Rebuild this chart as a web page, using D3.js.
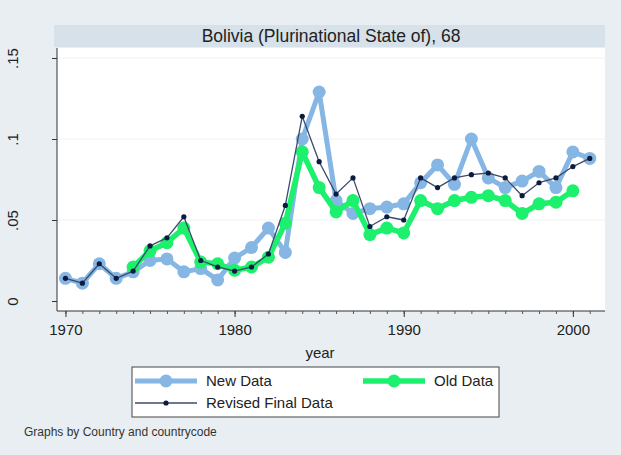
<!DOCTYPE html>
<html>
<head>
<meta charset="utf-8">
<script src="https://cdn.jsdelivr.net/npm/d3@7"></script>
<style>
  body { margin: 0; background: #e8eef2; }
  text { font-family: "Liberation Sans", Arial, sans-serif; }
</style>
</head>
<body>
<div id="chart"></div>
<script>
// Values
const years = d3.range(1970, 2002);
const newData = [0.014, 0.011, 0.023, 0.014, 0.018, 0.025, 0.026, 0.018, 0.020, 0.013,
  0.0265, 0.033, 0.045, 0.030, 0.100, 0.129, 0.062, 0.054, 0.057, 0.058,
  0.060, 0.073, 0.084, 0.072, 0.100, 0.076, 0.070, 0.074, 0.080, 0.070,
  0.092, 0.088];
const oldYears = d3.range(1974, 2001);
const oldData = [0.021, 0.031, 0.036, 0.045, 0.024, 0.023, 0.019, 0.021, 0.027, 0.048,
  0.092, 0.070, 0.055, 0.062, 0.041, 0.045, 0.042, 0.062, 0.057, 0.062,
  0.064, 0.065, 0.062, 0.054, 0.060, 0.061, 0.068];
const revised = [0.014, 0.011, 0.023, 0.014, 0.0185, 0.034, 0.039, 0.052, 0.025, 0.021,
  0.0185, 0.021, 0.029, 0.059, 0.114, 0.086, 0.066, 0.076, 0.046, 0.052,
  0.050, 0.076, 0.070, 0.076, 0.078, 0.079, 0.076, 0.065, 0.073, 0.076,
  0.083, 0.088];
const yTicks = [0, 0.05, 0.1, 0.15];
const yTickLabels = ["0", ".05", ".1", ".15"];
const xTicks = [1970, 1980, 1990, 2000];

const width = 621, height = 455;
const plot = {left: 57, right: 605, top: 48, bottom: 311};

const svg = d3.select("#chart")
  .append("svg")
  .attr("width", width)
  .attr("height", height);

svg.append("rect")
  .attr("width", width).attr("height", height)
  .attr("fill", "#e8eef2");

// title band
svg.append("rect")
  .attr("x", plot.left - 3).attr("y", 25)
  .attr("width", plot.right - plot.left + 3).attr("height", 22)
  .attr("fill", "#d6e1e9");
svg.append("text")
  .attr("x", (plot.left + plot.right) / 2)
  .attr("y", 36)
  .attr("dy", "0.35em")
  .attr("text-anchor", "middle")
  .style("font-size", "17.5px")
  .attr("fill", "#222")
  .text("Bolivia (Plurinational State of), 68");

// plot region
svg.append("rect")
  .attr("x", plot.left).attr("y", plot.top)
  .attr("width", plot.right - plot.left).attr("height", plot.bottom - plot.top)
  .attr("fill", "#ffffff");

const x = d3.scaleLinear()
  .domain([1969.5, 2001.9])
  .range([plot.left, plot.right]);

const y = d3.scaleLinear()
  .domain([0, 0.15])
  .range([301, 58]);

// faint grid lines
svg.append("g")
  .selectAll("line")
  .data(yTicks.slice(1))
  .join("line")
  .attr("x1", plot.left).attr("x2", plot.right)
  .attr("y1", d => y(d)).attr("y2", d => y(d))
  .attr("stroke", "#eef2f5")
  .attr("stroke-width", 1);

// y axis
const yAxis = svg.append("g")
  .attr("transform", `translate(${plot.left},0)`)
  .call(d3.axisLeft(y).tickValues(yTicks).tickSize(5).tickFormat((d, i) => yTickLabels[i]));
yAxis.select(".domain").attr("d", `M0,${plot.top}V${plot.bottom}`).attr("stroke", "#333");
yAxis.selectAll(".tick line").attr("stroke", "#333");
yAxis.selectAll(".tick text")
  .attr("x", 0).attr("y", 0)
  .attr("transform", "translate(-44,0) rotate(-90)")
  .attr("text-anchor", "middle")
  .attr("dy", "0.35em")
  .style("font-size", "15px")
  .attr("fill", "#222");

// x axis, minor ticks every year
const xAxis = svg.append("g")
  .attr("transform", `translate(0,${plot.bottom})`)
  .call(d3.axisBottom(x).tickValues(years).tickSize(3).tickFormat(""));
xAxis.select(".domain").attr("d", `M${plot.left},0H${plot.right}`).attr("stroke", "#333");
xAxis.selectAll(".tick line").attr("stroke", "#555");

const xMajor = svg.append("g")
  .attr("transform", `translate(0,${plot.bottom})`)
  .call(d3.axisBottom(x).tickValues(xTicks).tickSize(6).tickFormat(d3.format("d")));
xMajor.select(".domain").remove();
xMajor.selectAll(".tick line").attr("stroke", "#333");
xMajor.selectAll(".tick text")
  .attr("y", 13)
  .style("font-size", "15px")
  .attr("fill", "#222");

svg.append("text")
  .attr("x", (plot.left + plot.right) / 2 - 11)
  .attr("y", 353)
  .attr("dy", "0.35em")
  .attr("text-anchor", "middle")
  .style("font-size", "15px")
  .attr("fill", "#222")
  .text("year");

const line = d3.line().x(d => x(d[0])).y(d => y(d[1]));

const series = [
  {name: "New Data", pts: years.map((yr, i) => [yr, newData[i]]), color: "#85b6e4", lw: 5, r: 6.5, dot: "#85b6e4"},
  {name: "Old Data", pts: oldYears.map((yr, i) => [yr, oldData[i]]), color: "#1cf06c", lw: 5.5, r: 6.5, dot: "#1cf06c"},
  {name: "Revised Final Data", pts: years.map((yr, i) => [yr, revised[i]]), color: "#3c4a6c", lw: 1.3, r: 2.6, dot: "#0d1b3e"}
];

series.forEach(s => {
  const g = svg.append("g");
  g.append("path")
    .datum(s.pts)
    .attr("d", line)
    .attr("fill", "none")
    .attr("stroke", s.color)
    .attr("stroke-width", s.lw)
    .attr("stroke-linejoin", "round");
  g.selectAll("circle")
    .data(s.pts)
    .join("circle")
    .attr("cx", d => x(d[0]))
    .attr("cy", d => y(d[1]))
    .attr("r", s.r)
    .attr("fill", s.dot);
});

// legend
const legend = svg.append("g");
legend.append("rect")
  .attr("x", 132).attr("y", 367)
  .attr("width", 367).attr("height", 50)
  .attr("fill", "#ffffff")
  .attr("stroke", "#444")
  .attr("stroke-width", 1);

const legendPos = [
  {x: 135, y: 381},
  {x: 363, y: 381},
  {x: 135, y: 403}
];
series.forEach((s, i) => {
  const p = legendPos[i];
  legend.append("line")
    .attr("x1", p.x).attr("x2", p.x + 62)
    .attr("y1", p.y).attr("y2", p.y)
    .attr("stroke", s.color)
    .attr("stroke-width", s.lw);
  legend.append("circle")
    .attr("cx", p.x + 31).attr("cy", p.y)
    .attr("r", s.r)
    .attr("fill", s.dot);
  legend.append("text")
    .attr("x", p.x + 71)
    .attr("y", p.y)
    .attr("dy", "0.35em")
    .style("font-size", "15px")
    .attr("fill", "#222")
    .text(s.name);
});

svg.append("text")
  .attr("x", 24)
  .attr("y", 432)
  .attr("dy", "0.35em")
  .style("font-size", "12px")
  .attr("fill", "#333")
  .text("Graphs by Country and countrycode");
</script>
</body>
</html>
